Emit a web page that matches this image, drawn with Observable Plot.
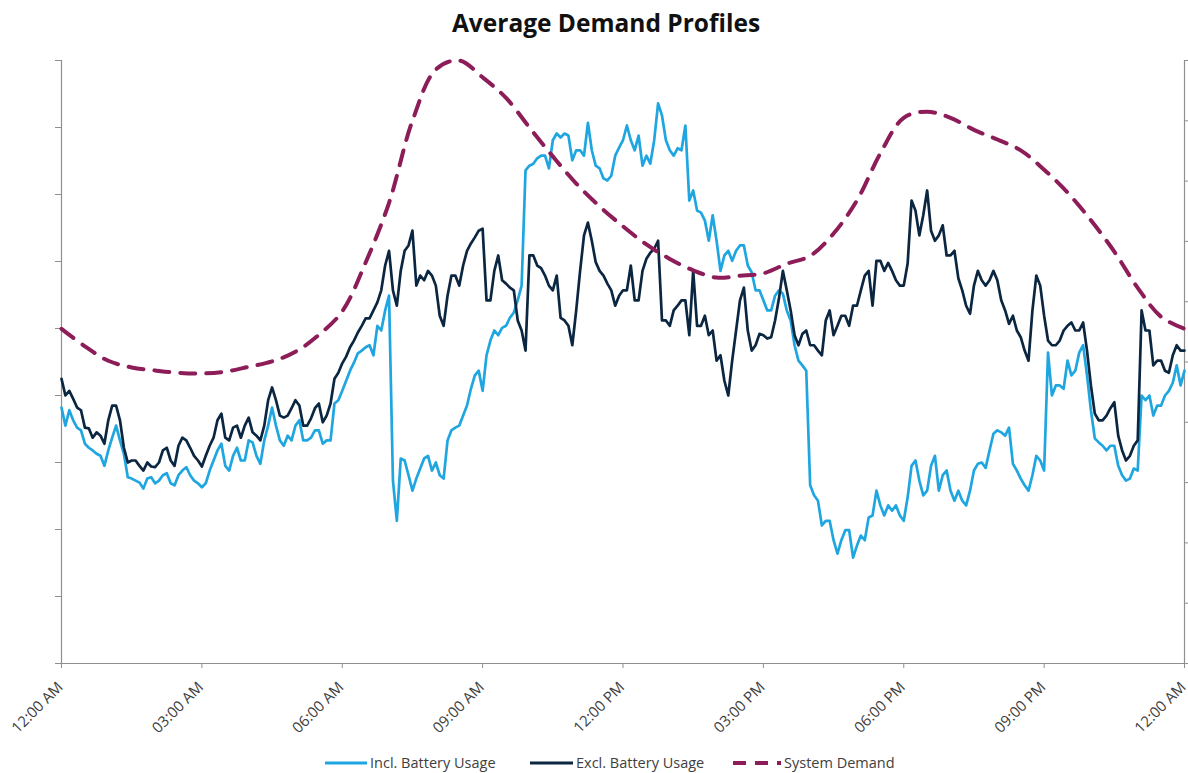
<!DOCTYPE html>
<html>
<head>
<meta charset="utf-8">
<script src="https://cdn.jsdelivr.net/npm/d3@7"></script>
<script src="https://cdn.jsdelivr.net/npm/@observablehq/plot@0.6"></script>
<style>
  html, body { margin: 0; padding: 0; background: #fff; overflow: hidden; }
  body { width: 1188px; height: 773px; position: relative; font-family: "Open Sans", sans-serif; }
  #title { position: absolute; top: 7px; left: 0; width: 1164px; padding-left: 24px; text-align: center;
           font-weight: 700; font-size: 24.5px; line-height: 32px; color: #111; }
  #chart { position: absolute; top: 50px; left: 0; }
  #chart svg { overflow: visible; }
  #chart svg text { font-size: 15px !important; font-family: "Open Sans", sans-serif; }
  .leg { position: absolute; top: 753px; height: 20px; line-height: 20px; font-size: 14.5px; color: #404040; white-space: nowrap; }
  .leg svg { position: absolute; top: 0; left: 0; }
  .leg span { position: absolute; top: 0; }
</style>
</head>
<body>
<div id="title">Average Demand Profiles</div>
<div id="chart"></div>
<div id="legend"></div>
<script>
// ---- Data ----
// x tick positions (hours since midnight) and their labels
const tickHours = [0, 3, 6, 9, 12, 15, 18, 21, 24];
const tickLabels = ["12:00 AM", "03:00 AM", "06:00 AM", "09:00 AM", "12:00 PM", "03:00 PM", "06:00 PM", "09:00 PM", "12:00 AM"];

// Battery series (left axis units). Readings at every 10 minutes (00:00, 00:10, ... 24:00)
// and readings in between (00:05, 00:15, ... 23:55).
const inclAt10 = [
  382,378,352,328,318,310,318,355,313,276,270,276,269,281,269,281,293,273,263,288,
  318,295,310,303,333,310,333,382,333,340,355,333,337,348,333,388,407,437,463,472,
  460,497,549,213,303,258,291,310,300,276,348,355,385,430,407,482,490,504,524,564,
  743,754,758,781,785,788,766,758,766,739,721,758,781,781,788,758,781,818,766,769,
  803,706,673,631,631,609,601,624,594,557,542,527,557,527,475,445,266,243,213,184,
  184,199,176,184,221,236,236,236,213,295,273,258,310,281,258,258,236,288,300,318,
  348,340,298,276,258,310,288,400,415,452,437,475,378,330,318,325,281,276,288,393,
  370,385,407,445,437
];
const inclAt05 = [
  355,363,348,322,313,295,337,333,278,273,261,278,273,284,266,288,281,269,269,303,
  328,288,322,303,330,298,355,355,325,333,363,333,348,328,333,393,422,449,467,475,
  504,527,273,306,281,276,306,288,281,333,352,370,410,437,460,497,501,516,542,736,
  746,758,739,791,791,751,766,807,743,724,728,770,803,766,743,746,836,781,758,766,
  691,676,661,669,586,616,616,624,584,557,527,549,552,512,452,437,251,206,213,164,
  199,158,191,218,258,221,228,221,248,303,251,295,258,288,243,243,258,298,292,343,
  345,352,288,266,281,303,464,415,410,430,464,430,336,325,325,295,273,291,400,400,
  385,400,419,415
];
const exclAt10 = [
  425,407,382,352,337,340,363,385,322,303,295,300,293,318,303,325,333,310,294,325,
  363,337,352,337,367,340,355,412,370,370,393,355,366,388,370,425,448,472,494,515,
  527,557,616,534,616,646,579,586,564,504,579,564,616,636,649,542,609,567,557,497,
  609,594,579,557,516,504,527,639,631,586,567,534,557,594,542,604,619,512,504,534,
  542,586,504,490,452,422,452,542,497,475,490,487,545,557,490,492,475,467,512,490,
  519,504,534,579,534,601,598,572,564,691,639,706,631,654,609,575,534,564,572,572,
  572,527,519,487,452,579,519,475,482,504,497,509,415,363,370,390,318,310,333,497,
  445,452,434,475,467
];
const exclAt05 = [
  400,395,378,351,345,328,385,363,300,303,288,294,300,322,295,337,322,303,310,337,
  373,333,355,355,345,333,393,393,367,381,385,355,381,360,388,434,458,482,504,515,
  539,594,557,586,624,564,572,579,519,549,579,594,627,646,542,586,572,561,512,467,
  609,590,564,579,512,475,586,658,599,579,557,549,557,542,586,613,631,512,527,542,
  490,504,519,497,460,400,497,561,467,492,485,512,586,527,475,497,475,460,527,504,
  519,534,557,586,601,586,586,564,597,676,669,646,639,609,616,557,522,586,564,586,
  542,507,497,467,527,564,482,475,497,509,497,467,373,363,381,340,303,325,527,497,
  452,437,460,467
];

// System demand: one reading every 30 minutes (right axis units)
const systemDemand = [
  555,526,502,491,486,482,481,484,492,501,517,545,584,665,764,900,985,1000,972,938,
  889,841,796,758,725,695,671,652,640,643,647,663,676,713,768,846,905,915,905,885,
  869,851,819,781,735,683,623,575,555
];

// Axis extents (no numeric labels are shown on the reference)
const leftMax = 900, leftStep = 100;
const rightMax = 1000, rightStep = 100;
const toLeft = leftMax / rightMax;

// Colours
const cIncl = "#1fa6e0", cExcl = "#0b2641", cSys = "#8d1d58", cAxis = "#8f8f8f", cText = "#404040";

// Merge the two sets of readings in time order
const batteryRows = [];
inclAt10.forEach((v, i) => {
  batteryRows.push({ t: (i * 10) / 60, incl: v, excl: exclAt10[i] });
  if (i < inclAt05.length) batteryRows.push({ t: (i * 10 + 5) / 60, incl: inclAt05[i], excl: exclAt05[i] });
});
const systemRows = systemDemand.map((v, i) => ({ t: i * 0.5, v }));

const chart = Plot.plot({
  width: 1188,
  height: 693,
  marginTop: 10,
  marginLeft: 61,
  marginRight: 4,
  marginBottom: 80,
  style: { fontFamily: "Open Sans, sans-serif", background: "white", overflow: "visible" },
  x: { domain: [0, 24] },
  y: { domain: [0, leftMax] },
  marks: [
    Plot.axisY({ anchor: "left", ticks: d3.range(0, leftMax + 1, leftStep), tickSize: 6, tickFormat: () => "", label: null, stroke: cAxis }),
    Plot.axisY({ anchor: "right", ticks: d3.range(0, rightMax + 1, rightStep).map(v => v * toLeft), tickSize: 5, tickFormat: () => "", label: null, stroke: cAxis }),
    Plot.axisX({ ticks: tickHours, tickSize: 5, tickFormat: () => "", label: null, stroke: cAxis }),
    Plot.axisX({ ticks: tickHours, tickFormat: d => tickLabels[tickHours.indexOf(d)], tickRotate: -45, tickSize: 0, tickPadding: 21,
                 dx: -1, label: null, fill: cText }),
    Plot.ruleX([0, 24], { stroke: cAxis, strokeWidth: 1.2 }),
    Plot.ruleY([0], { stroke: cAxis, strokeWidth: 1.2 }),
    Plot.line(batteryRows, { x: "t", y: "incl", stroke: cIncl, strokeWidth: 2.7, strokeLinejoin: "round" }),
    Plot.line(batteryRows, { x: "t", y: "excl", stroke: cExcl, strokeWidth: 2.7, strokeLinejoin: "round" }),
    Plot.line(systemRows, { x: "t", y: d => d.v * toLeft, stroke: cSys, strokeWidth: 4, strokeDasharray: "15,11", curve: "catmull-rom" })
  ]
});
document.getElementById("chart").appendChild(chart);

// ---- Legend ----
const legendItems = [
  { label: "Incl. Battery Usage", color: cIncl, dash: null, left: 325, textLeft: 45 },
  { label: "Excl. Battery Usage", color: cExcl, dash: null, left: 530, textLeft: 46 },
  { label: "System Demand", color: cSys, dash: "13,9", left: 733, textLeft: 51 }
];
const legend = document.getElementById("legend");
for (const item of legendItems) {
  const d = document.createElement("div");
  d.className = "leg";
  d.style.left = item.left + "px";
  const w = item.textLeft - 3;
  d.innerHTML = `<svg width="${w}" height="20"><line x1="0" x2="${w}" y1="10" y2="10" stroke="${item.color}" stroke-width="${item.dash ? 4 : 3}" ${item.dash ? `stroke-dasharray="${item.dash}"` : ""}/></svg><span style="left:${item.textLeft}px">${item.label}</span>`;
  legend.appendChild(d);
}
</script>
</body>
</html>
